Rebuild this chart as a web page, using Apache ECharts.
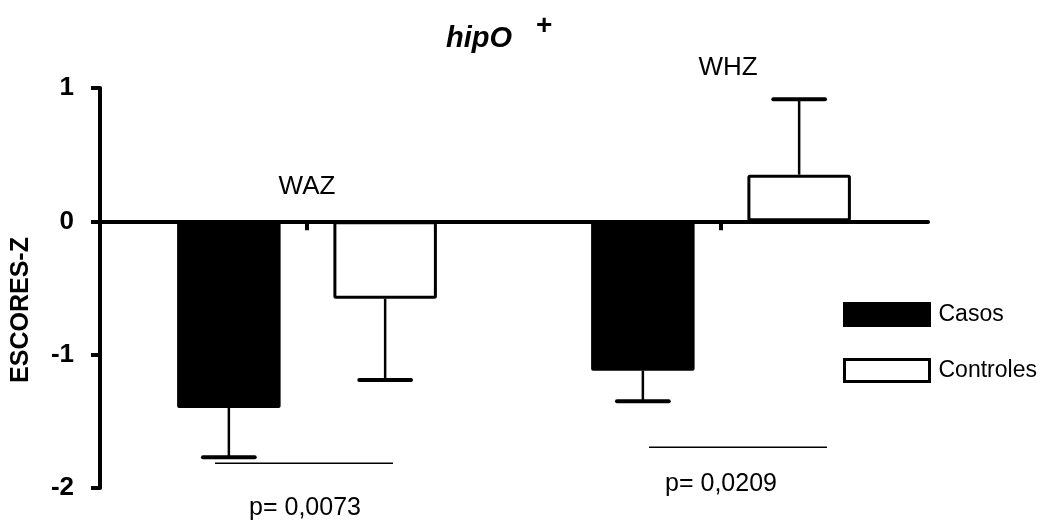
<!DOCTYPE html>
<html><head><meta charset="utf-8">
<script src="https://cdn.jsdelivr.net/npm/echarts@6/dist/echarts.min.js"></script>
<style>html,body{margin:0;padding:0;background:#fff}#c{width:1052px;height:524px}</style>
</head><body><div id="c"></div>
<script>
const categories = ['WAZ', 'WHZ'];
const seriesNames = ['Casos', 'Controles'];
const casos = [-1.40, -1.12];
const casosErr = [0.37, 0.23];
const controles = [-0.58, 0.35];
const controlesErr = [0.61, 0.565];
const yTicks = ['-2', '-1', '0', '1'];
const pValues = ['p= 0,0073', 'p= 0,0209'];

const FONT = 'Liberation Sans, Arial, sans-serif';
const BAR_W = 0.25, BAR_GAP = 0.51;
// annotation layout (positions only)
const GROUP_LABEL_Y = [0.26, 1.15];
const GROUP_LABEL_DX = [0, 7];
const P_LAYOUT = [
  {dx: -3, lineY: -1.815, textY: -2.15, tdx: -2, half: 89},
  {dx: 17, lineY: -1.695, textY: -1.97, tdx: 0, half: 89}
];

function errRender(sIdx) {
  return function (params, api) {
    const ci = api.value(0), v = api.value(1), e = api.value(2);
    const bw = api.size([1, 0])[0];
    const off = (sIdx === 0 ? -1 : 1) * bw * BAR_W * (1 + BAR_GAP) / 2;
    const c = api.coord([ci, v]);
    const end = v < 0 ? v - e : v + e;
    const c2 = api.coord([ci, end]);
    const x = c[0] + off;
    const cap = bw * BAR_W * 0.25;
    return {type: 'group', children: [
      {type: 'line', shape: {x1: x, y1: c[1], x2: x, y2: c2[1]}, style: {stroke: '#000', lineWidth: 2.5}},
      {type: 'line', shape: {x1: x - cap, y1: c2[1], x2: x + cap, y2: c2[1]}, style: {stroke: '#000', lineWidth: 4, lineCap: 'round'}}
    ]};
  };
}

function pRender(params, api) {
  const i = params.dataIndex;
  const L = P_LAYOUT[i];
  const c = api.coord([i, L.lineY]);
  const t = api.coord([i, L.textY]);
  return {type: 'group', children: [
    {type: 'line', shape: {x1: c[0] + L.dx - L.half, y1: c[1], x2: c[0] + L.dx + L.half, y2: c[1]}, style: {stroke: '#000', lineWidth: 1.5}},
    {type: 'text', x: t[0] + L.tdx, y: t[1], style: {text: pValues[i], fill: '#000', font: '25px ' + FONT, align: 'center', verticalAlign: 'middle'}}
  ]};
}

const chart = echarts.init(document.getElementById('c'));
chart.setOption({
  backgroundColor: '#fff',
  animation: false,
  title: [
    {text: 'hipO', left: 446, top: 24, padding: 0, textStyle: {fontFamily: FONT, fontSize: 29, fontWeight: 'bold', fontStyle: 'italic', color: '#000'}},
    {text: '+', left: 536, top: 12, padding: 0, textStyle: {fontFamily: FONT, fontSize: 28, fontWeight: 'bold', color: '#000'}}
  ],
  legend: {
    orient: 'vertical', left: 843, top: 302, padding: 0,
    itemWidth: 85, itemHeight: 22, itemGap: 31,
    icon: 'rect',
    data: seriesNames,
    itemStyle: {borderWidth: 3},
    textStyle: {fontFamily: FONT, fontSize: 23, color: '#000', padding: [0, 0, 0, 4]}
  },
  grid: {left: 100, right: 124, top: 88, bottom: 36, containLabel: false},
  xAxis: {
    type: 'category', data: categories,
    axisLine: {onZero: true, lineStyle: {color: '#000', width: 4}},
    axisTick: {show: true, alignWithLabel: true, length: 9, lineStyle: {color: '#000', width: 4}},
    axisLabel: {show: false},
    splitLine: {show: false}
  },
  yAxis: {
    type: 'value', min: -2, max: 1, interval: 1,
    name: 'ESCORES-Z', nameLocation: 'middle', nameGap: 66,
    nameTextStyle: {fontFamily: FONT, fontSize: 25, fontWeight: 'bold', color: '#000', padding: [0, 44, 0, 0]},
    axisLine: {show: true, lineStyle: {color: '#000', width: 4}},
    axisTick: {show: true, length: 9, lineStyle: {color: '#000', width: 4}},
    axisLabel: {fontFamily: FONT, fontSize: 26, fontWeight: 'bold', color: '#000', margin: 26,
      formatter: function (v) { return yTicks[Math.round(v) + 2]; }},
    splitLine: {show: false}
  },
  series: [
    {name: 'Casos', type: 'bar', data: casos, barWidth: (BAR_W * 100) + '%', barGap: (BAR_GAP * 100) + '%',
      itemStyle: {color: '#000', borderColor: '#000', borderWidth: 2, borderRadius: 1}, z: 2},
    {name: 'Controles', type: 'bar', data: controles, barWidth: (BAR_W * 100) + '%', barGap: (BAR_GAP * 100) + '%',
      itemStyle: {color: '#fff', borderColor: '#000', borderWidth: 3, borderRadius: 1}, z: 2},
    {name: 'errCasos', type: 'custom', renderItem: errRender(0), z: 3,
      data: casos.map((v, i) => [i, v, casosErr[i]])},
    {name: 'errControles', type: 'custom', renderItem: errRender(1), z: 3,
      data: controles.map((v, i) => [i, v, controlesErr[i]])},
    {name: 'groupLabels', type: 'scatter', symbolSize: 0, silent: true, clip: false, z: 4,
      itemStyle: {opacity: 1, color: '#000'},
      data: categories.map((c, i) => ({value: [i, GROUP_LABEL_Y[i]], name: c,
        label: {show: true, position: 'inside', offset: [GROUP_LABEL_DX[i], 0], formatter: c,
          fontFamily: FONT, fontSize: 26, color: '#000', textBorderWidth: 0}}))},
    {name: 'pvals', type: 'custom', renderItem: pRender, clip: false, z: 4,
      data: pValues.map((p, i) => [i, 0])}
  ]
});
</script></body></html>
